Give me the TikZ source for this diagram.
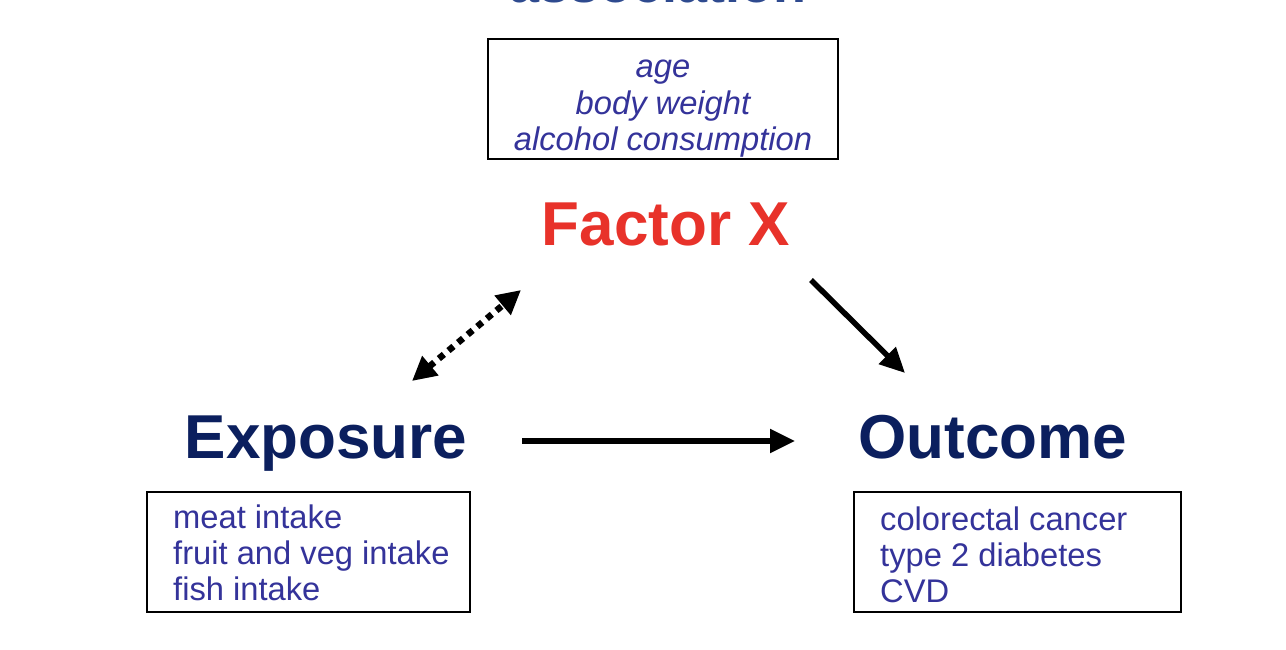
\documentclass[tikz,border=0pt]{standalone}
\usepackage{fontspec}
\setmainfont{Liberation Sans}
\usetikzlibrary{arrows.meta}
\definecolor{navy}{HTML}{0B1F5E}
\definecolor{smallblue}{HTML}{34339A}
\definecolor{factorred}{HTML}{E8322A}
\definecolor{assoc}{HTML}{2E4A8F}
\tikzset{
  bigtxt/.style={anchor=base, font=\fontsize{62}{70}\selectfont\bfseries, inner sep=0pt},
  smalltxt/.style={anchor=base west, font=\fontsize{32.7}{36}\selectfont, text=smallblue, inner sep=0pt},
  itxt/.style={anchor=base, font=\fontsize{32.7}{36}\selectfont\itshape, text=smallblue, inner sep=0pt},
  listbox/.style={draw=black, line width=2pt},
  arr/.style={line width=5.5pt, -{Triangle[length=25pt,width=23pt]}},
  darr/.style={line width=6.5pt, dash pattern=on 6.5pt off 6pt, {Triangle[length=24pt,width=24pt]}-{Triangle[length=24pt,width=24pt]}}
}
\begin{document}
\begin{tikzpicture}[x=1pt,y=-1pt]
\useasboundingbox (0,0) rectangle (1286,650);
\fill[white] (0,0) rectangle (1286,650);
% cut-off title
\node[anchor=base, font=\fontsize{54}{60}\selectfont\bfseries, text=assoc, inner sep=0pt] (assoc) at (658,3) {association};
% top box
\draw[listbox] (488,39) rectangle (838,159);
\node[itxt] (age) at (663,78) {age};
\node[itxt] (bw) at (663,115) {body weight};
\node[itxt] (alc) at (663,151) {alcohol consumption};
% main labels
\node[bigtxt, text=factorred] (fx) at (666,245) {Factor X};
\node[bigtxt, text=navy] (exp) at (326,458) {Exposure};
\node[bigtxt, text=navy] (out) at (993,458) {Outcome};
% exposure box
\draw[listbox] (147,492) rectangle (470,612);
\node[smalltxt] (e1) at (173,528) {meat intake};
\node[smalltxt] (e2) at (173,564) {fruit and veg intake};
\node[smalltxt] (e3) at (173,600) {fish intake};
% outcome box
\draw[listbox] (854,492) rectangle (1181,612);
\node[smalltxt] (o1) at (880,530) {colorectal cancer};
\node[smalltxt] (o2) at (880,566) {type 2 diabetes};
\node[smalltxt] (o3) at (880,602) {CVD};
% arrows
\coordinate (a1s) at (522,441);
\coordinate (a1e) at (795,441);
\draw[arr] (a1s) -- (a1e);
\coordinate (a2s) at (811,280);
\coordinate (a2e) at (905,373);
\draw[arr] (a2s) -- (a2e);
\coordinate (a3s) at (412,381);
\coordinate (a3e) at (521,290);
\draw[darr] (a3s) -- (a3e);
\end{tikzpicture}
\end{document}
